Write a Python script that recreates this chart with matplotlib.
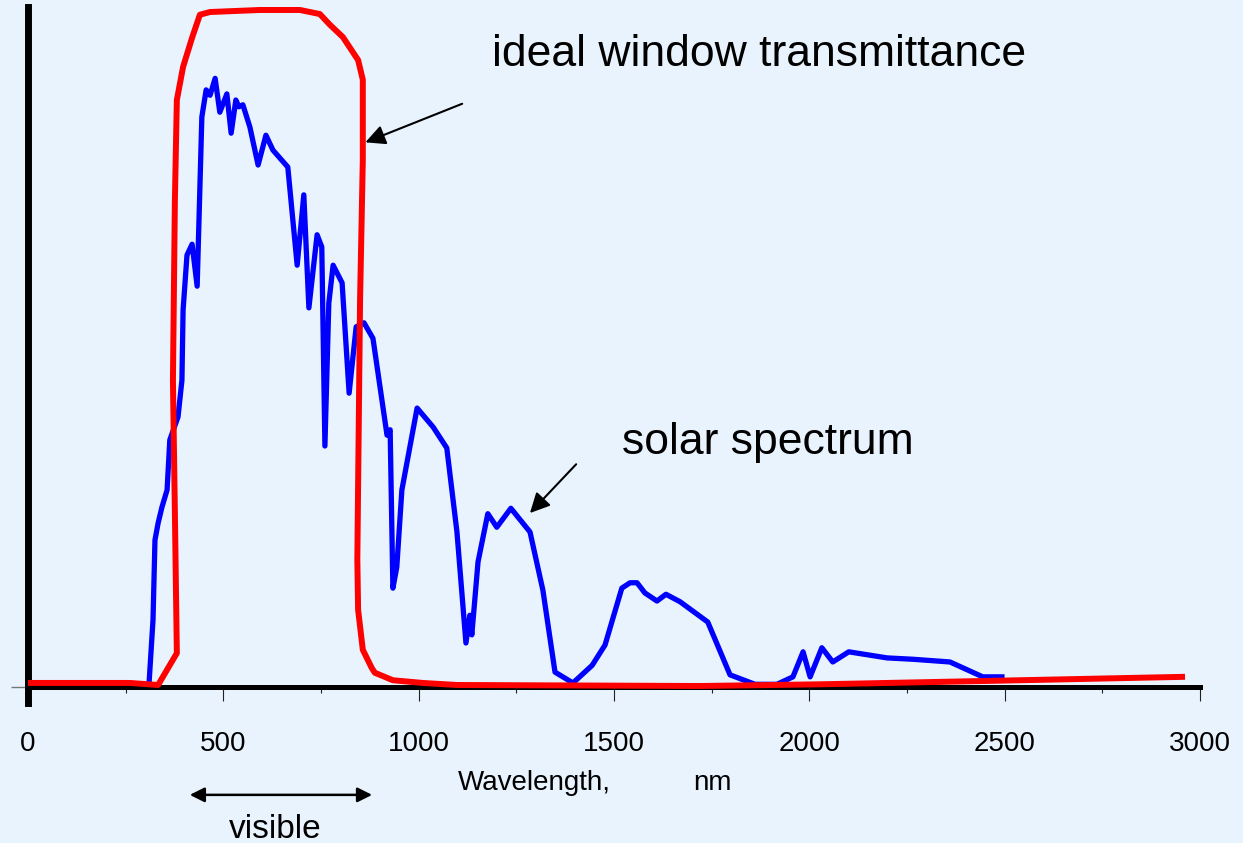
import matplotlib
matplotlib.use("Agg")
import matplotlib.pyplot as plt
from matplotlib.ticker import MultipleLocator

plt.rcParams['font.family'] = ['Liberation Sans', 'DejaVu Sans']

# solar spectrum (relative units)
solar_nm = [310, 320, 325, 333, 343, 356, 363, 384, 394, 397, 407, 420, 433, 445,
            456, 466, 479, 491, 509, 520, 532, 540, 550, 568, 589, 609, 627, 665,
            689, 706, 719, 740, 752, 760, 770, 781, 804, 822, 840, 860, 883, 919,
            927, 934, 944, 957, 996, 1037, 1072, 1098, 1121, 1131, 1136, 1152, 1177,
            1200, 1236, 1285, 1318, 1349, 1395, 1444, 1477, 1520, 1541, 1559, 1579,
            1610, 1633, 1669, 1740, 1797, 1861, 1917, 1958, 1984, 2002, 2032, 2060,
            2101, 2199, 2265, 2360, 2444, 2493]
solar_val = [0.7, 9.9, 21.7, 24.2, 26.6, 29.1, 36.5, 39.9, 45.3, 55.7, 63.8, 65.4, 59.2, 84.2,
             88.2, 87.4, 89.9, 84.9, 87.6, 81.8, 86.7, 85.7, 86.0, 82.7, 77.1, 81.5, 79.3, 76.8,
             62.3, 72.7, 56.0, 66.8, 65.0, 35.6, 56.7, 62.3, 59.7, 43.4, 53.2, 53.8, 51.5, 37.2,
             38.0, 14.6, 17.7, 29.1, 41.2, 38.4, 35.3, 22.9, 6.5, 10.6, 7.7, 18.5, 25.6,
             23.6, 26.4, 22.9, 14.3, 2.2, 0.6, 3.2, 6.2, 14.6, 15.4, 15.4, 13.9,
             12.7, 13.7, 12.6, 9.6, 1.8, 0.4, 0.4, 1.5, 5.2, 1.5, 5.8, 3.7,
             5.2, 4.3, 4.1, 3.7, 1.5, 1.5]

# ideal window transmittance (percent)
window_nm = [0, 261, 333, 381, 376, 371, 376, 381, 397, 420, 440, 466, 594, 696, 747,
             773, 806, 845, 857, 857, 850, 843, 845, 857, 880, 888, 934, 1011, 1098,
             1720, 2027, 2455, 2954]
window_val = [0.6, 0.6, 0.3, 5.0, 25.7, 45.3, 71.9, 86.7, 91.6, 95.9, 99.3, 99.7, 100, 100, 99.4,
              97.8, 96.0, 92.6, 89.7, 77.8, 57.2, 18.8, 11.4, 5.5, 2.8, 2.1, 1.0, 0.6, 0.3,
              0.15, 0.4, 0.9, 1.5]

major_ticks = [0, 500, 1000, 1500, 2000, 2500, 3000]
tick_labels = ['0', '500', '1000', '1500', '2000', '2500', '3000']

bg = '#e9f3fd'
fig = plt.figure(figsize=(12.43, 8.43), dpi=100, facecolor=bg)
ax = fig.add_axes([28 / 1243, 140 / 843, 1172 / 1243, 696 / 843])
ax.set_facecolor(bg)

ax.plot(solar_nm, solar_val, color='#0000ff', lw=3.8, solid_joinstyle='round', zorder=3)
ax.plot(window_nm, window_val, color='#ff0000', lw=4.3, solid_joinstyle='round', zorder=4)

ax.set_xlim(0, 3000)
ax.set_ylim(-2.36, 100.44)

for s in ['top', 'right']:
    ax.spines[s].set_visible(False)
ax.spines['left'].set_linewidth(5)
ax.spines['bottom'].set_position(('data', 0))
ax.spines['bottom'].set_linewidth(3.6)
ax.spines['bottom'].set_zorder(2)

ax.set_xticks(major_ticks)
ax.set_xticklabels(tick_labels, fontsize=20)
ax.xaxis.set_minor_locator(MultipleLocator(250))
ax.tick_params(axis='x', which='major', direction='out', length=10, width=0.8,
               color='#222222', pad=22)
ax.tick_params(axis='x', which='minor', direction='out', length=4.5, width=0.8,
               color='#222222')
ax.set_yticks([0])
ax.set_yticklabels([])
ax.tick_params(axis='y', direction='out', length=12, width=1, color='#777777')

tr = ax.get_xaxis_transform()
ax.text(1100, -0.125, 'Wavelength,', transform=tr, fontsize=20, ha='left', va='baseline')
ax.text(1702, -0.125, 'nm', transform=tr, fontsize=20, ha='left', va='baseline')

ax.annotate('', xy=(407, -0.132), xytext=(888, -0.132), xycoords=tr, textcoords=tr,
            arrowprops=dict(arrowstyle='<|-|>', color='black', lw=1.8, mutation_scale=22),
            annotation_clip=False)
ax.text(632, -0.194, 'visible', transform=tr, fontsize=24, ha='center', va='baseline')

ax.text(1872, 91.7, 'ideal window transmittance', fontsize=32, ha='center', va='baseline')
ax.annotate('', xy=(857, 80.3), xytext=(1118, 86.3),
            arrowprops=dict(arrowstyle='-|>', color='black', lw=1.5, mutation_scale=30))

ax.text(1894, 34.4, 'solar spectrum', fontsize=32, ha='center', va='baseline')
ax.annotate('', xy=(1280, 25.4), xytext=(1408, 33.2),
            arrowprops=dict(arrowstyle='-|>', color='black', lw=1.5, mutation_scale=30))

fig.savefig('out.png', dpi=100, facecolor=bg)
